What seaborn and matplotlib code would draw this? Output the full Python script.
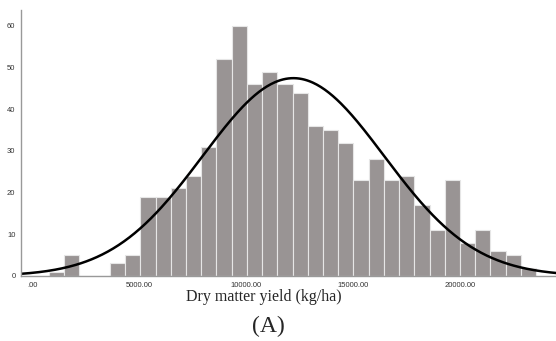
import numpy as np
import pandas as pd
import seaborn as sns
import matplotlib.pyplot as plt

# conteos por intervalo
conteos = [1, 5, 0, 0, 3, 5, 19, 19, 21, 24, 31, 52, 60, 46, 49, 46,
           44, 36, 35, 32, 23, 28, 23, 24, 17, 11, 23, 8, 11, 6, 5, 2]
inicio = 750.0
ancho = 713.0
media = 12200.0
desv = 4250.0
ticks_x = [0, 5000, 10000, 15000, 20000]
etiquetas_x = [".00", "5000.00", "10000.00", "15000.00", "20000.00"]
ticks_y = [0, 10, 20, 30, 40, 50, 60]

bordes = inicio + ancho * np.arange(len(conteos) + 1)
centros = (bordes[:-1] + bordes[1:]) / 2
df = pd.DataFrame({"rend": centros, "n": conteos})

sns.set_style("white")
fig = plt.figure(figsize=(5.56, 3.41), dpi=100)
ax = fig.add_axes([21 / 556, 1 - 276 / 341, 1 - 21 / 556, 266 / 341])

sns.histplot(data=df, x="rend", weights="n", binwidth=ancho,
             binrange=(bordes[0], bordes[-1]), ax=ax,
             color="#999494", edgecolor="#e6e6e6", linewidth=0.8, alpha=1)

# curva normal ajustada
xs = np.linspace(-600, 24600, 400)
total = sum(conteos)
ys = total * ancho / (desv * np.sqrt(2 * np.pi)) * np.exp(-0.5 * ((xs - media) / desv) ** 2)
sns.lineplot(x=xs, y=ys, ax=ax, color="black", linewidth=1.8)

ax.set_xlim(-560, 24500)
ax.set_ylim(0, 63.8)
ax.set_xticks(ticks_x)
ax.set_xticklabels(etiquetas_x, fontsize=5.5, family="Liberation Sans", color="#333333")
ax.set_yticks(ticks_y)
ax.set_yticklabels([str(t) for t in ticks_y], fontsize=5.5, family="Liberation Sans", color="#333333")
ax.tick_params(length=0, pad=4)
ax.set_ylabel("")
ax.set_xlabel("Dry matter yield (kg/ha)", family="Liberation Serif", fontsize=11.5)
ax.xaxis.set_label_coords((264 - 21) / 535, -0.05)
ax.xaxis.label.set_va("top")
for s in ["top", "right"]:
    ax.spines[s].set_visible(False)
for s in ["left", "bottom"]:
    ax.spines[s].set_color("#999999")
    ax.spines[s].set_linewidth(1.0)

fig.text(268 / 556, 0.012, "(A)", family="Liberation Serif", fontsize=17,
         ha="center", va="bottom")

fig.savefig("out.png", dpi=100)
